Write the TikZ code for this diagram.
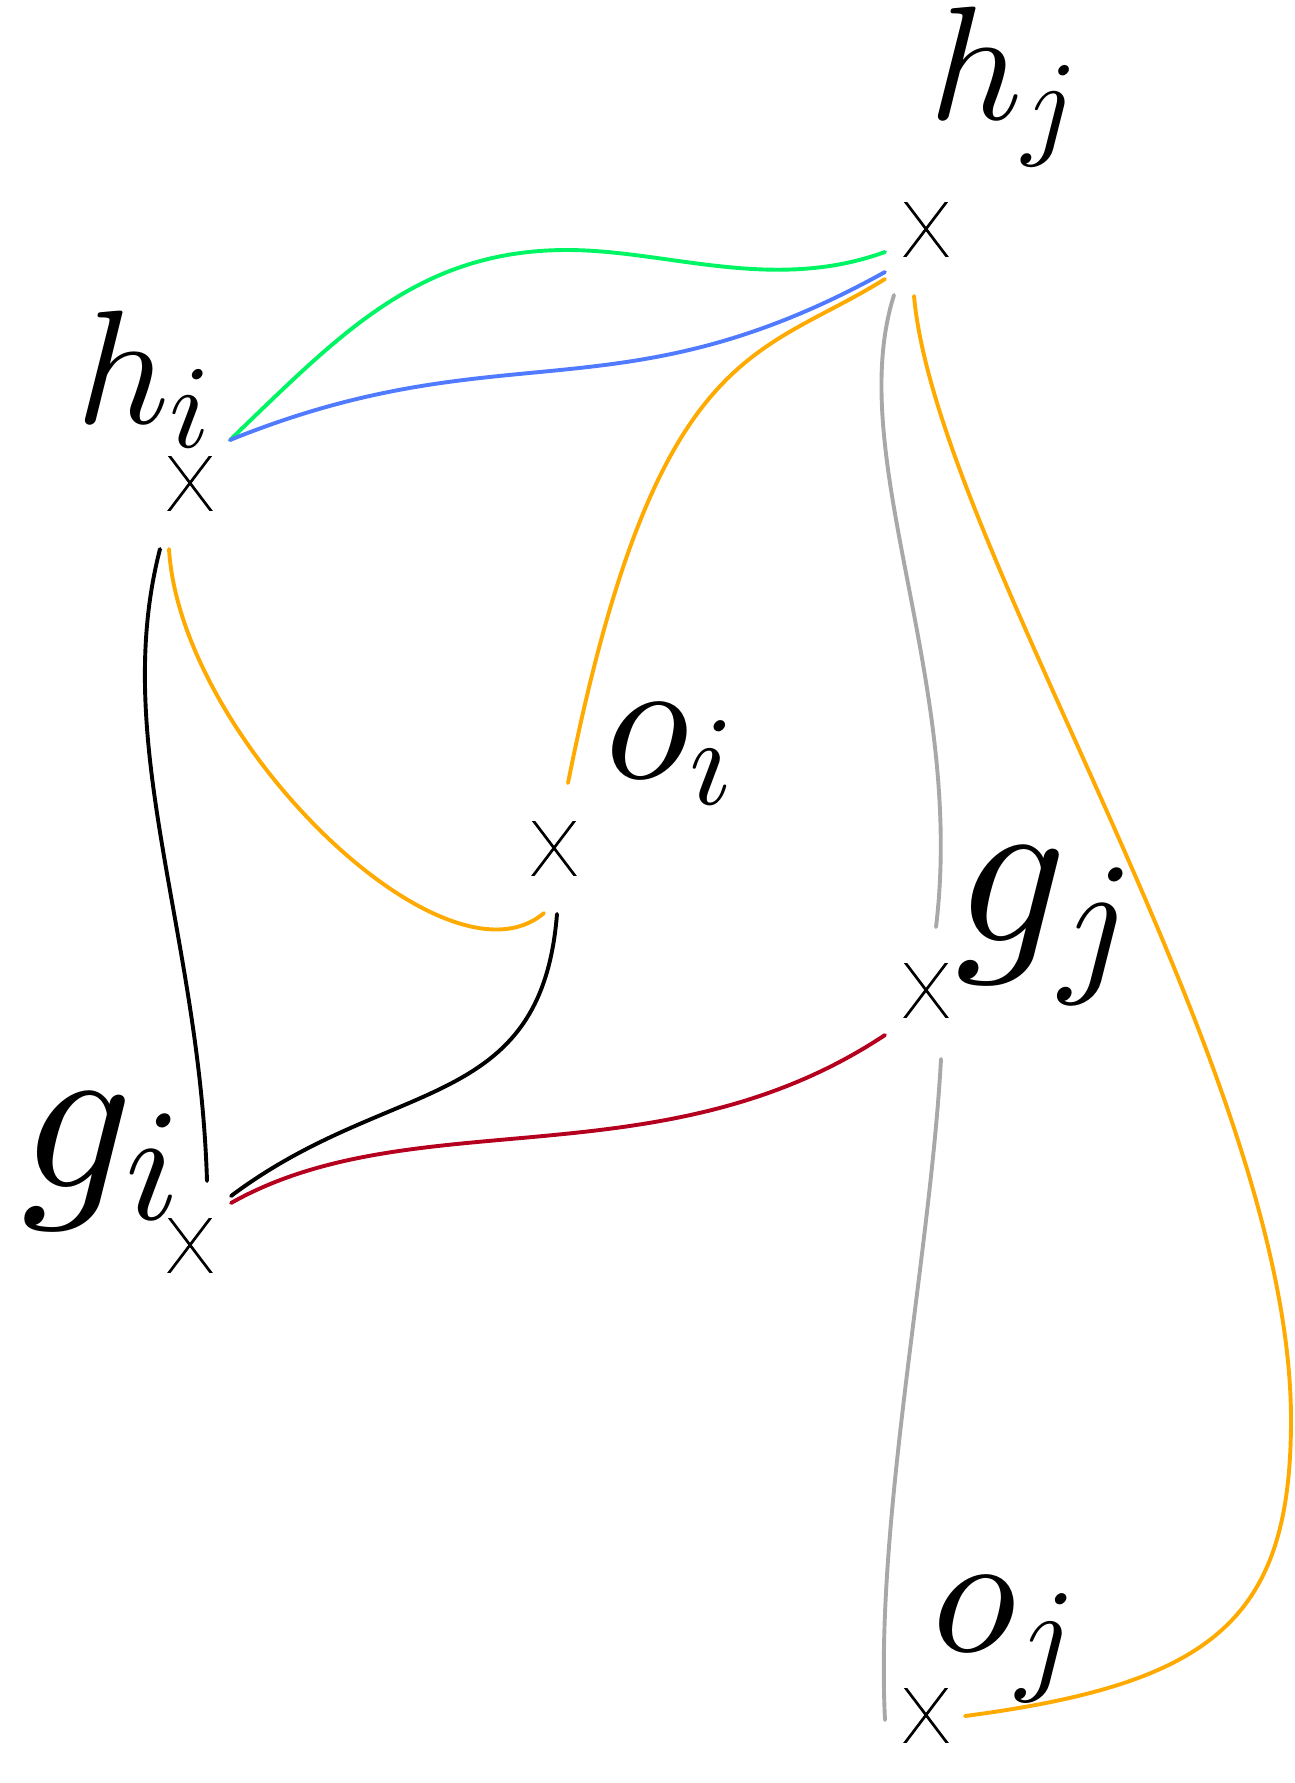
\documentclass[tikz,border=0pt]{standalone}
\DeclareFontShape{OML}{cmm}{m}{it}{<->cmmi10}{}
\DeclareFontShape{OMS}{cmsy}{m}{n}{<->cmsy10}{}
\DeclareFontShape{OT1}{cmr}{m}{n}{<->cmr10}{}
\DeclareMathSizes{81}{81}{59.1}{40.5}
\DeclareMathSizes{87}{87}{63.5}{43.5}
\DeclareMathSizes{109.5}{109.5}{80}{55}
\definecolor{cgreen}{RGB}{0,245,100}
\definecolor{cblue}{RGB}{80,122,255}
\definecolor{corange}{RGB}{255,170,0}
\definecolor{cgray}{RGB}{168,168,168}
\definecolor{cred}{RGB}{180,0,30}
\tikzset{
  crossmark/.style={inner sep=0pt, minimum width=30pt, minimum height=27pt,
    path picture={
      \draw[line width=1.35pt] ([shift={(-26.6,-35.1)}]path picture bounding box.center) -- ([shift={(26.6,35.1)}]path picture bounding box.center);
      \draw[line width=1.35pt] ([shift={(-26.6,35.1)}]path picture bounding box.center) -- ([shift={(26.6,-35.1)}]path picture bounding box.center);
    }},
  labh/.style={inner sep=0pt, anchor=base west, font=\fontsize{81}{90}\selectfont},
  labo/.style={inner sep=0pt, anchor=base west, font=\fontsize{87}{96}\selectfont},
  labg/.style={inner sep=0pt, anchor=base west, font=\fontsize{109.5}{120}\selectfont},
  con/.style={line width=1.95pt, line cap=round},
}
\begin{document}
\begin{tikzpicture}[x=0.5pt, y=-0.5pt]
\useasboundingbox (0,0) rectangle (1295,1783);
% crosses
\node[crossmark] (hi) at (190,483) {};
\node[crossmark] (hj) at (926,229) {};
\node[crossmark] (oi) at (554,848) {};
\node[crossmark] (gi) at (190,1245) {};
\node[crossmark] (gj) at (926,990) {};
\node[crossmark] (oj) at (926,1715) {};
% labels
\node[labh] (lhi) at (76,423) {$h_i$};
\node[labh] (lhj) at (929,119) {$h_j$};
\node[labo] (loi) at (605,778) {$o_i$};
\node[labo] (loj) at (932,1651) {$o_j$};
\node[labg] (lgi) at (21,1187) {$g_i$};
\node[labg] (lgj) at (955,941) {$g_j$};
% connectors
\draw[con, cgreen] ([shift={(40,-43)}]hi.center) .. controls (338,336.5) and (417,250) .. (567,250)
   .. controls (667,250) and (772,293) .. ([shift={(-41,23)}]hj.center);
\draw[con, cblue] ([shift={(40,-43)}]hi.center) .. controls (503.5,329.4) and (618,420) .. ([shift={(-41,43)}]hj.center);
\draw[con, corange] ([shift={(-41,50)}]hj.center) .. controls (757.5,358.5) and (656,342) .. ([shift={(14,-65)}]oi.center);
\draw[con, cgray] ([shift={(-32,66)}]hj.center) .. controls (843,456.5) and (966,679.5) .. ([shift={(10,-63)}]gj.center);
\draw[con, corange] ([shift={(-12,67)}]hj.center) .. controls (936.5,546) and (1291,1070) .. (1291,1420)
   .. controls (1291,1620) and (1212.5,1683.5) .. ([shift={(39,1)}]oj.center);
\draw[con, black] ([shift={(-30,66)}]hi.center) .. controls (110,743) and (199.5,931) .. ([shift={(17,-64)}]gi.center);
\draw[con, corange] ([shift={(-21,66)}]hi.center) .. controls (180.4,739) and (445,997.5) .. ([shift={(-10,65)}]oi.center);
\draw[con, black] ([shift={(3,66)}]oi.center) .. controls (541,1114) and (391,1076) .. ([shift={(41,-49)}]gi.center);
\draw[con, cred] ([shift={(41,-42)}]gi.center) .. controls (413.7,1100) and (661,1183.5) .. ([shift={(-41,45)}]gj.center);
\draw[con, cgray] ([shift={(15,69)}]gj.center) .. controls (930,1259) and (875,1520) .. ([shift={(-41,5)}]oj.center);
\end{tikzpicture}
\end{document}
